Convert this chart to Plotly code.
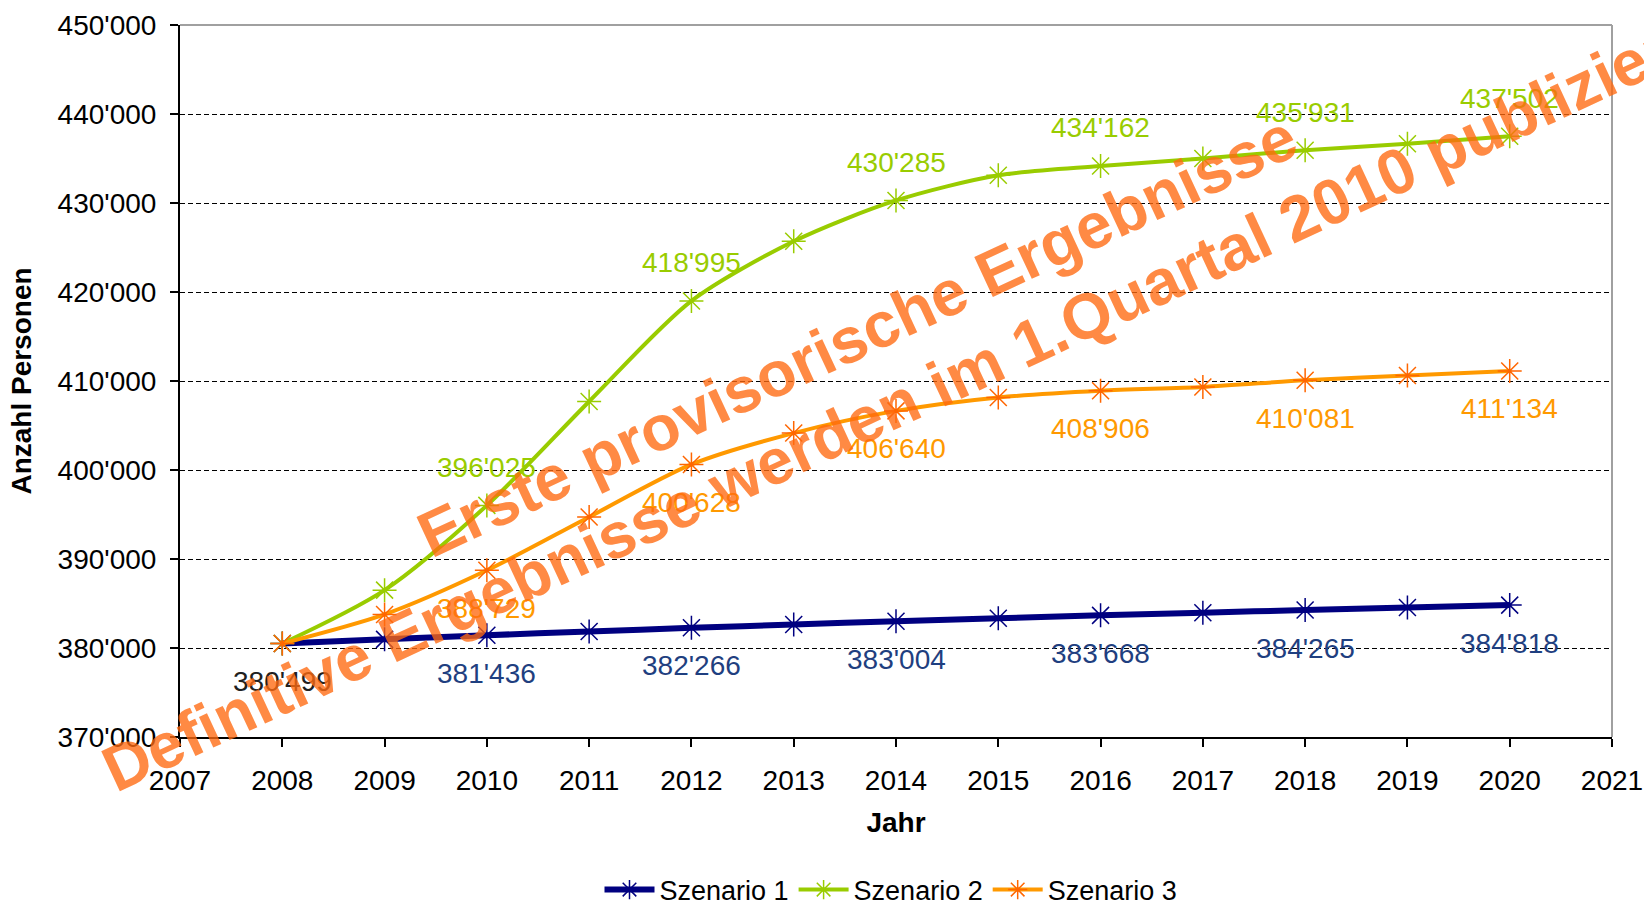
import plotly.graph_objects as go

# Bevölkerungsszenarien 2008-2020
years = list(range(2008, 2021))
szenario_1 = [380499, 380970, 381436, 381850, 382266, 382640, 383004,
              383340, 383668, 383970, 384265, 384545, 384818]
szenario_2 = [380499, 386500, 396025, 407700, 418995, 425700, 430285,
              433120, 434162, 435000, 435931, 436650, 437502]
szenario_3 = [380499, 383770, 388729, 394720, 400628, 404150, 406640,
              408150, 408906, 409330, 410081, 410620, 411134]

series_names = ["Szenario 1", "Szenario 2", "Szenario 3"]
line_colors = ["#000080", "#99CC00", "#FF9900"]
marker_colors = ["#000080", "#99CC00", "#FF6600"]
label_colors = ["#1F3F80", "#99CC00", "#FF9900"]
label_shift = [-38, 38, -38]
line_widths = [6, 4, 4]

x_title = "Jahr"
y_title = "Anzahl Personen"
watermark_1 = "Erste provisorische Ergebnisse"
watermark_2 = "Definitive Ergebnisse werden im 1.Quartal 2010 publiziert"

FONT = "Liberation Sans, Arial, sans-serif"
W, H = 1644, 909
ML, MR, MT, MB = 180, 32, 25, 172
PW, PH = W - ML - MR, H - MT - MB


def fmt(v):
    return f"{v:,}".replace(",", "'")


def px_to_paper(px, py):
    return (px - ML) / PW, 1 - (py - MT) / PH


fig = go.Figure()
all_series = [szenario_1, szenario_2, szenario_3]
for name, vals, lc, mc, lw in zip(series_names, all_series, line_colors,
                                   marker_colors, line_widths):
    fig.add_trace(go.Scatter(
        x=years, y=vals, name=name, mode="lines+markers",
        line=dict(color=lc, width=lw, shape="spline", smoothing=0.8),
        marker=dict(symbol="asterisk-open", size=20,
                    line=dict(color=mc, width=1.5), color=mc),
    ))

# value labels on even years
annotations = []
for i, (vals, col, sh) in enumerate(zip(all_series, label_colors, label_shift)):
    for yr, v in zip(years, vals):
        if yr % 2:
            continue
        if yr == 2008:
            if i != 0:
                continue
            col_use = "#202020"
        else:
            col_use = col
        annotations.append(dict(
            x=yr, y=v, xref="x", yref="y", text=fmt(v), showarrow=False,
            yshift=sh, font=dict(family=FONT, size=28, color=col_use),
        ))

# watermark
wm_font = dict(family=FONT, size=64, color="rgba(255,105,15,0.78)",
               weight="bold")
wx1, wy1 = px_to_paper(857, 336)
wx2, wy2 = px_to_paper(896, 405)
annotations.append(dict(x=wx1, y=wy1, xref="paper", yref="paper",
                        text=watermark_1, showarrow=False, textangle=-25,
                        font=wm_font))
annotations.append(dict(x=wx2, y=wy2, xref="paper", yref="paper",
                        text=watermark_2, showarrow=False, textangle=-25,
                        font=wm_font))

lx, ly = px_to_paper(891, 890)
fig.update_layout(
    width=W, height=H,
    margin=dict(l=ML, r=MR, t=MT, b=MB, autoexpand=False),
    paper_bgcolor="white", plot_bgcolor="white",
    separators=".'",
    font=dict(family=FONT, size=28, color="black"),
    showlegend=True,
    legend=dict(orientation="h", x=lx, xanchor="center", y=ly,
                yanchor="middle", font=dict(family=FONT, size=27),
                itemwidth=50, tracegroupgap=0),
    annotations=annotations,
    shapes=[
        dict(type="line", xref="paper", yref="paper", x0=0, x1=1, y0=1, y1=1,
             line=dict(color="#A0A0A0", width=2), layer="above"),
        dict(type="line", xref="paper", yref="paper", x0=1, x1=1, y0=0, y1=1,
             line=dict(color="#A0A0A0", width=2), layer="above"),
    ],
)

fig.update_xaxes(
    range=[2007, 2021], dtick=1, tick0=2007, showgrid=False, zeroline=False,
    showline=True, linecolor="black", linewidth=2, automargin=False,
    ticks="outside", ticklen=8, tickwidth=2, tickcolor="black",
    ticklabelstandoff=9,
    tickfont=dict(family=FONT, size=28, color="black"),
    title=dict(text=f"<b>{x_title}</b>", standoff=18,
               font=dict(family=FONT, size=28, color="black")),
)
fig.update_yaxes(
    range=[370000, 450000], dtick=10000, tick0=370000, tickformat=",d",
    showgrid=True, gridcolor="black", gridwidth=1, griddash="5px,3px",
    zeroline=False, showline=True, linecolor="black", linewidth=2,
    automargin=False,
    ticks="outside", ticklen=8, tickwidth=2, tickcolor="black",
    ticklabelstandoff=8,
    tickfont=dict(family=FONT, size=28, color="black"),
    title=dict(text=f"<b>{y_title}</b>", standoff=18,
               font=dict(family=FONT, size=28, color="black")),
)

fig.write_html("out.html")
